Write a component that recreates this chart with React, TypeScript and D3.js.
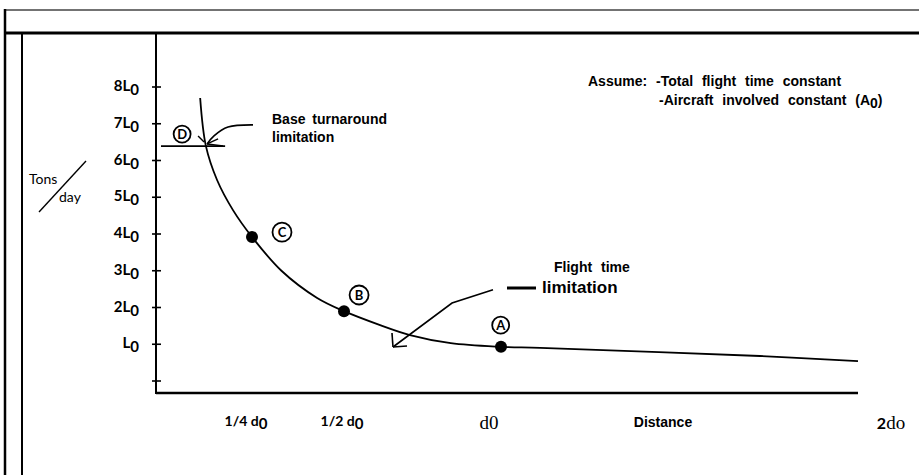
import React from 'react';
import * as d3 from 'd3';

// ---- data (distance in units of d0, payload in units of L0) ----
const yTickValues = [0, 1, 2, 3, 4, 5, 6, 7, 8];
const yTickPrefixes = ['', '', '2', '3', '4', '5', '6', '7', '8'];
const xTickValues = [0.25, 0.5, 1, 2];
const xTickLabels = ['1/4 d', '1/2 d', 'd0', '2'];

const curveDistance = [0.115, 0.13, 0.159, 0.2005, 0.25, 0.33, 0.427, 0.5, 0.615, 0.71, 0.84, 1.0, 1.11, 1.725, 2.0];
const curveTons = [7.7, 6.39, 5.47, 4.65, 3.92, 3.0, 2.26, 1.9, 1.52, 1.25, 1.03, 0.93, 0.9, 0.68, 0.54];

const pointNames = ['A', 'B', 'C'];
const pointDistance = [1, 0.5, 0.25];
const pointTons = [0.93, 1.9, 3.92];

const markerNames = ['A', 'B', 'C', 'D'];
const markerDistance = [0.999, 0.548, 0.3315, 0.068];
const markerTons = [1.52, 2.34, 4.05, 6.72];

const baseLimitTons = 6.39;
const baseLimitSpan = [0.013, 0.18];
const baseArrowDistance = [0.2527, 0.1875, 0.151, 0.133];
const baseArrowTons = [6.97, 6.91, 6.67, 6.45];

const flightArrowDistance = [0.9745, 0.844, 0.656];
const flightArrowTons = [2.48, 2.12, 0.925];

export default function App() {
  const x = d3.scaleLinear().domain([0, 0.25, 0.5, 1, 2]).range([156, 252, 344, 501, 858]);
  const xLabel = d3.scaleLinear().domain(xTickValues).range([246, 342, 489, 891]);
  const y = d3.scaleLinear().domain([0, 8]).range([381, 87]);

  const curvePts: [number, number][] = curveDistance.map((d, i) => [x(d), y(curveTons[i])]);
  const line = d3.line().curve(d3.curveCatmullRom.alpha(0.5));
  const curvePath = line(curvePts) || '';

  const baseArrow = d3.line().curve(d3.curveCatmullRom.alpha(0.5))(
    baseArrowDistance.map((d, i) => [x(d), y(baseArrowTons[i])] as [number, number])
  ) || '';
  const flightArrow = d3.line().curve(d3.curveLinear)(
    flightArrowDistance.map((d, i) => [x(d), y(flightArrowTons[i])] as [number, number])
  ) || '';

  const bTipX = x(baseArrowDistance[3]);
  const bTipY = y(baseArrowTons[3]);
  const fTipX = x(flightArrowDistance[2]);
  const fTipY = y(flightArrowTons[2]);

  const tickFont = 'Lato, "Open Sans", sans-serif';
  const narrow = '"Liberation Sans Narrow", "Arial Narrow", "Liberation Sans", sans-serif';
  const serif = '"Liberation Serif", "DejaVu Serif", serif';

  return (
    <svg width={919} height={475} style={{ position: 'absolute', left: 0, top: 0, background: '#fff' }}>
      {/* frame */}
      <line x1={5} y1={10} x2={919} y2={10} stroke="#444" strokeWidth={1.5} />
      <line x1={5} y1={9} x2={5} y2={475} stroke="#000" strokeWidth={2.5} />
      <line x1={5} y1={33} x2={919} y2={33} stroke="#000" strokeWidth={3} />
      <line x1={22} y1={33} x2={22} y2={475} stroke="#000" strokeWidth={2} />

      {/* axes */}
      <line x1={x(0)} y1={33} x2={x(0)} y2={394} stroke="#000" strokeWidth={2} />
      <line x1={x(0)} y1={393} x2={x(2)} y2={393} stroke="#000" strokeWidth={2.5} />
      {yTickValues.map((v) => (
        <line key={'t' + v} x1={x(0) - 4} x2={x(0) + 5} y1={y(v)} y2={y(v)} stroke="#000" strokeWidth={1.6} />
      ))}
      {yTickValues.map((v, i) =>
        v === 0 ? null : (
          <text key={'l' + v} x={139} y={y(v) + 4} textAnchor="end" fontFamily={tickFont} fontWeight={700} fontSize={15}>
            {yTickPrefixes[i]}L<tspan dy={4}>0</tspan>
          </text>
        )
      )}

      {/* y label */}
      <text x={29} y={184} fontFamily={tickFont} fontSize={14}>Tons</text>
      <line x1={86} y1={161} x2={39} y2={212} stroke="#000" strokeWidth={1.4} />
      <text x={59} y={202} fontFamily={tickFont} fontSize={14}>day</text>

      {/* x labels */}
      {xTickValues.map((v, i) => {
        if (i < 2) {
          return (
            <text key={'x' + i} x={xLabel(v)} y={426} textAnchor="middle" fontFamily={tickFont} fontWeight={700} fontSize={14}>
              {xTickLabels[i]}<tspan dy={3} fontSize={15}>0</tspan>
            </text>
          );
        }
        if (i === 2) {
          return (
            <text key={'x' + i} x={xLabel(v)} y={429} textAnchor="middle" fontFamily={serif} fontSize={19}>
              {xTickLabels[i]}
            </text>
          );
        }
        return (
          <text key={'x' + i} x={xLabel(v)} y={429} textAnchor="middle" fontSize={19}>
            <tspan fontFamily={tickFont} fontWeight={700} fontSize={16}>{xTickLabels[i]}</tspan>
            <tspan fontFamily={serif}>do</tspan>
          </text>
        );
      })}
      <text x={663} y={427} textAnchor="middle" fontFamily={narrow} fontWeight={700} fontSize={14}>Distance</text>

      {/* curve */}
      <path d={curvePath} fill="none" stroke="#000" strokeWidth={1.8} />

      {/* base turnaround limit */}
      <line x1={x(baseLimitSpan[0])} x2={x(baseLimitSpan[1])} y1={y(baseLimitTons)} y2={y(baseLimitTons)} stroke="#000" strokeWidth={1.8} />
      <path d={baseArrow} fill="none" stroke="#000" strokeWidth={1.6} />
      <line x1={bTipX} y1={bTipY} x2={bTipX + 11} y2={bTipY - 5} stroke="#000" strokeWidth={1.4} />
      <line x1={bTipX} y1={bTipY} x2={bTipX + 16} y2={bTipY + 2} stroke="#000" strokeWidth={1.4} />
      <line x1={bTipX - 9} y1={bTipY - 8} x2={bTipX - 3} y2={bTipY - 2} stroke="#000" strokeWidth={1.4} />

      {/* flight time limitation arrow */}
      <path d={flightArrow} fill="none" stroke="#000" strokeWidth={1.6} />
      <line x1={fTipX} y1={fTipY} x2={fTipX - 1} y2={fTipY - 14} stroke="#000" strokeWidth={1.6} />
      <line x1={fTipX} y1={fTipY} x2={fTipX + 14} y2={fTipY - 1} stroke="#000" strokeWidth={1.6} />
      <line x1={507} x2={536} y1={288} y2={288} stroke="#000" strokeWidth={3} />

      {/* points */}
      {pointNames.map((n, i) => (
        <circle key={n} cx={x(pointDistance[i])} cy={y(pointTons[i])} r={6} fill="#000" />
      ))}
      {markerNames.map((n, i) => (
        <g key={'m' + n} transform={`translate(${x(markerDistance[i])},${y(markerTons[i])})`}>
          <circle r={n === 'A' || n === 'D' ? 8.5 : 9.5} fill="#fff" stroke="#000" strokeWidth={1.8} />
          <text y={5} textAnchor="middle" fontFamily={tickFont} fontWeight={700} fontSize={13}>{n}</text>
        </g>
      ))}

      {/* annotations */}
      <text x={272} y={124} fontFamily={narrow} fontWeight={700} fontSize={14} wordSpacing={3}>Base turnaround</text>
      <text x={272} y={142} fontFamily={narrow} fontWeight={700} fontSize={14}>limitation</text>

      <text x={588} y={86} fontFamily={narrow} fontWeight={700} fontSize={14}>Assume:</text>
      <text x={656} y={86} fontFamily={narrow} fontWeight={700} fontSize={14} wordSpacing={5}>-Total flight time constant</text>
      <text x={659} y={105} fontFamily={narrow} fontWeight={700} fontSize={14} wordSpacing={5}>
        -Aircraft involved constant (A<tspan dy={3}>0</tspan><tspan dy={-3}>)</tspan>
      </text>

      <text x={554} y={272} fontFamily={narrow} fontWeight={700} fontSize={14} wordSpacing={5}>Flight time</text>
      <text x={542} y={293} fontFamily={narrow} fontWeight={700} fontSize={17}>limitation</text>
    </svg>
  );
}
